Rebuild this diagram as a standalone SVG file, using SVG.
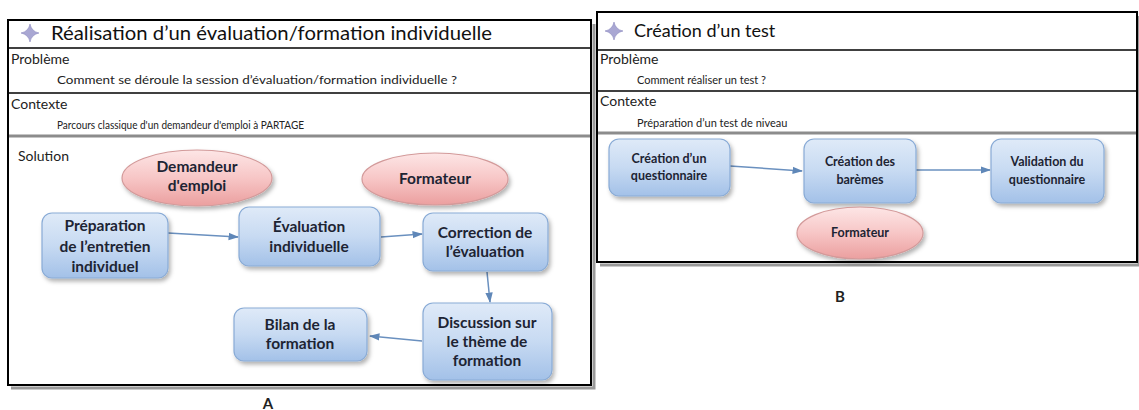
<svg xmlns="http://www.w3.org/2000/svg" width="1139" height="410" viewBox="0 0 1139 410">
<defs>
<linearGradient id="gBox" x1="0" y1="0" x2="0" y2="1"><stop offset="0" stop-color="#dfeaf8"/><stop offset="0.5" stop-color="#c7daf2"/><stop offset="1" stop-color="#a3c1e8"/></linearGradient>
<linearGradient id="gEll" x1="0" y1="0" x2="0" y2="1"><stop offset="0" stop-color="#fde6e6"/><stop offset="0.5" stop-color="#f7c6c6"/><stop offset="1" stop-color="#eb9f9f"/></linearGradient>
<filter id="sh" x="-20%" y="-20%" width="150%" height="150%"><feDropShadow dx="2" dy="3" stdDeviation="2" flood-color="#000" flood-opacity="0.3"/></filter>
<marker id="ah" viewBox="0 0 10 10" refX="9" refY="5" markerWidth="7" markerHeight="7" orient="auto"><path d="M0,1.5 L10,5 L0,8.5 z" fill="#5f87b8"/></marker>
<path id="star" d="M0,-9 Q1.5,-1.5 9,0 Q1.5,1.5 0,9 Q-1.5,1.5 -9,0 Q-1.5,-1.5 0,-9 z"/>
</defs>
<style>
.frame{fill:#fff;stroke:#000;stroke-width:2}
.shadow{fill:none;stroke:#9a9a9a;stroke-width:3}
.sep{stroke:#000;stroke-width:1.5}
.sepg{stroke:#8c8c8c;stroke-width:3}
.title{font-family:Lato,"Liberation Sans",sans-serif;font-size:20px;fill:#111}
.titleb{font-family:Lato,"Liberation Sans",sans-serif;font-size:18px;fill:#111}
.head{font-family:Lato,"Liberation Sans",sans-serif;font-size:14px;fill:#222}
.sub{font-family:Lato,"Liberation Sans",sans-serif;font-size:12px;fill:#222}
.subb{font-family:Lato,"Liberation Sans",sans-serif;font-size:11px;fill:#222}
.box{fill:url(#gBox);stroke:#89abd6;stroke-width:1.2;filter:url(#sh)}
.ell{fill:url(#gEll);stroke:#d39a9a;stroke-width:1.2;filter:url(#sh)}
.lbl{font-family:Lato,"Liberation Sans",sans-serif;font-weight:700;font-size:15.5px;fill:#1d2433;text-anchor:middle}
.lblb{font-family:Lato,"Liberation Sans",sans-serif;font-weight:700;font-size:12.5px;fill:#1d2433;text-anchor:middle}
.cap{font-family:Lato,"Liberation Sans",sans-serif;font-weight:700;font-size:15px;fill:#222;text-anchor:middle}
.icon{fill:#a9a7d3;stroke:#8d8bbf;stroke-width:0.6}
.conn{stroke:#6a90bf;stroke-width:1.5;fill:none;marker-end:url(#ah)}
</style>

<!-- Panel A frame -->
<g id="panelA">
<path class="shadow" d="M594,24 V388 H11"/>
<rect class="frame" x="8" y="20" width="583" height="365"/>
<line class="sep" x1="8" y1="48" x2="591" y2="48"/>
<line class="sep" x1="8" y1="93" x2="591" y2="93"/>
<line class="sepg" x1="9" y1="136" x2="590" y2="136"/>
<use href="#star" class="icon" x="30" y="33"/>
<text class="title" x="51" y="40" textLength="441" lengthAdjust="spacingAndGlyphs">Réalisation d’un évaluation/formation individuelle</text>
<text class="head" x="11" y="64">Problème</text>
<text class="sub" x="57" y="84" textLength="400" lengthAdjust="spacingAndGlyphs">Comment se déroule la session d’évaluation/formation individuelle ?</text>
<text class="head" x="11" y="109">Contexte</text>
<text class="sub" x="57" y="129" textLength="247" lengthAdjust="spacingAndGlyphs">Parcours classique d'un demandeur d'emploi à PARTAGE</text>
<text class="head" x="18" y="161">Solution</text>
</g>

<!-- Panel B frame -->
<g id="panelB">
<path class="shadow" d="M1139,16 V265 H600"/>
<rect class="frame" x="597" y="12" width="540" height="250"/>
<line class="sep" x1="597" y1="50" x2="1137" y2="50"/>
<line class="sep" x1="597" y1="91" x2="1137" y2="91"/>
<line class="sepg" x1="598" y1="133" x2="1136" y2="133"/>
<use href="#star" class="icon" x="614" y="31"/>
<text class="titleb" x="634" y="37">Création d’un test</text>
<text class="head" x="600" y="64">Problème</text>
<text class="subb" x="637" y="84">Comment réaliser un test ?</text>
<text class="head" x="600" y="106">Contexte</text>
<text class="subb" x="637" y="127">Préparation d’un test de niveau</text>
</g>

<!-- Connectors -->
<g id="connectors">
<line class="conn" x1="168" y1="233" x2="238" y2="237"/>
<line class="conn" x1="381" y1="237" x2="422" y2="234"/>
<line class="conn" x1="487" y1="272" x2="490" y2="302"/>
<line class="conn" x1="422" y1="341" x2="370" y2="336"/>
<line class="conn" x1="730" y1="166" x2="802" y2="171"/>
<line class="conn" x1="916" y1="170" x2="990" y2="170"/>
</g>

<!-- Panel A nodes -->
<g id="demandeur"><ellipse class="ell" cx="197" cy="178" rx="75" ry="28"/>
<text class="lbl" x="197" y="172">Demandeur</text><text class="lbl" x="197" y="191">d'emploi</text></g>
<g id="formateurA"><ellipse class="ell" cx="435" cy="179" rx="73" ry="26"/>
<text class="lbl" x="435" y="184">Formateur</text></g>
<g id="preparation"><rect class="box" x="42" y="213" width="126" height="65" rx="10"/>
<text class="lbl" x="105" y="231">Préparation</text><text class="lbl" x="105" y="252">de l’entretien</text><text class="lbl" x="105" y="272">individuel</text></g>
<g id="evaluation"><rect class="box" x="239" y="207" width="141" height="59" rx="10"/>
<text class="lbl" x="309" y="232">Évaluation</text><text class="lbl" x="309" y="252">individuelle</text></g>
<g id="correction"><rect class="box" x="423" y="213" width="125" height="58" rx="10"/>
<text class="lbl" x="485" y="238">Correction de</text><text class="lbl" x="485" y="257">l’évaluation</text></g>
<g id="discussion"><rect class="box" x="423" y="303" width="129" height="77" rx="10"/>
<text class="lbl" x="487" y="328">Discussion sur</text><text class="lbl" x="487" y="347">le thème de</text><text class="lbl" x="487" y="366">formation</text></g>
<g id="bilan"><rect class="box" x="234" y="308" width="133" height="53" rx="10"/>
<text class="lbl" x="300" y="330">Bilan de la</text><text class="lbl" x="300" y="349">formation</text></g>

<!-- Panel B nodes -->
<g id="creationQ"><rect class="box" x="609" y="139" width="121" height="57" rx="10"/>
<text class="lblb" x="669" y="163">Création d’un</text><text class="lblb" x="669" y="180">questionnaire</text></g>
<g id="baremes"><rect class="box" x="804" y="139" width="112" height="64" rx="10"/>
<text class="lblb" x="860" y="166">Création des</text><text class="lblb" x="860" y="184">barèmes</text></g>
<g id="validation"><rect class="box" x="991" y="139" width="113" height="64" rx="10"/>
<text class="lblb" x="1047" y="166">Validation du</text><text class="lblb" x="1047" y="184">questionnaire</text></g>
<g id="formateurB"><ellipse class="ell" cx="860" cy="233" rx="63" ry="26"/>
<text class="lblb" x="860" y="237">Formateur</text></g>

<text class="cap" x="268" y="409">A</text>
<text class="cap" x="840" y="302">B</text>
</svg>
